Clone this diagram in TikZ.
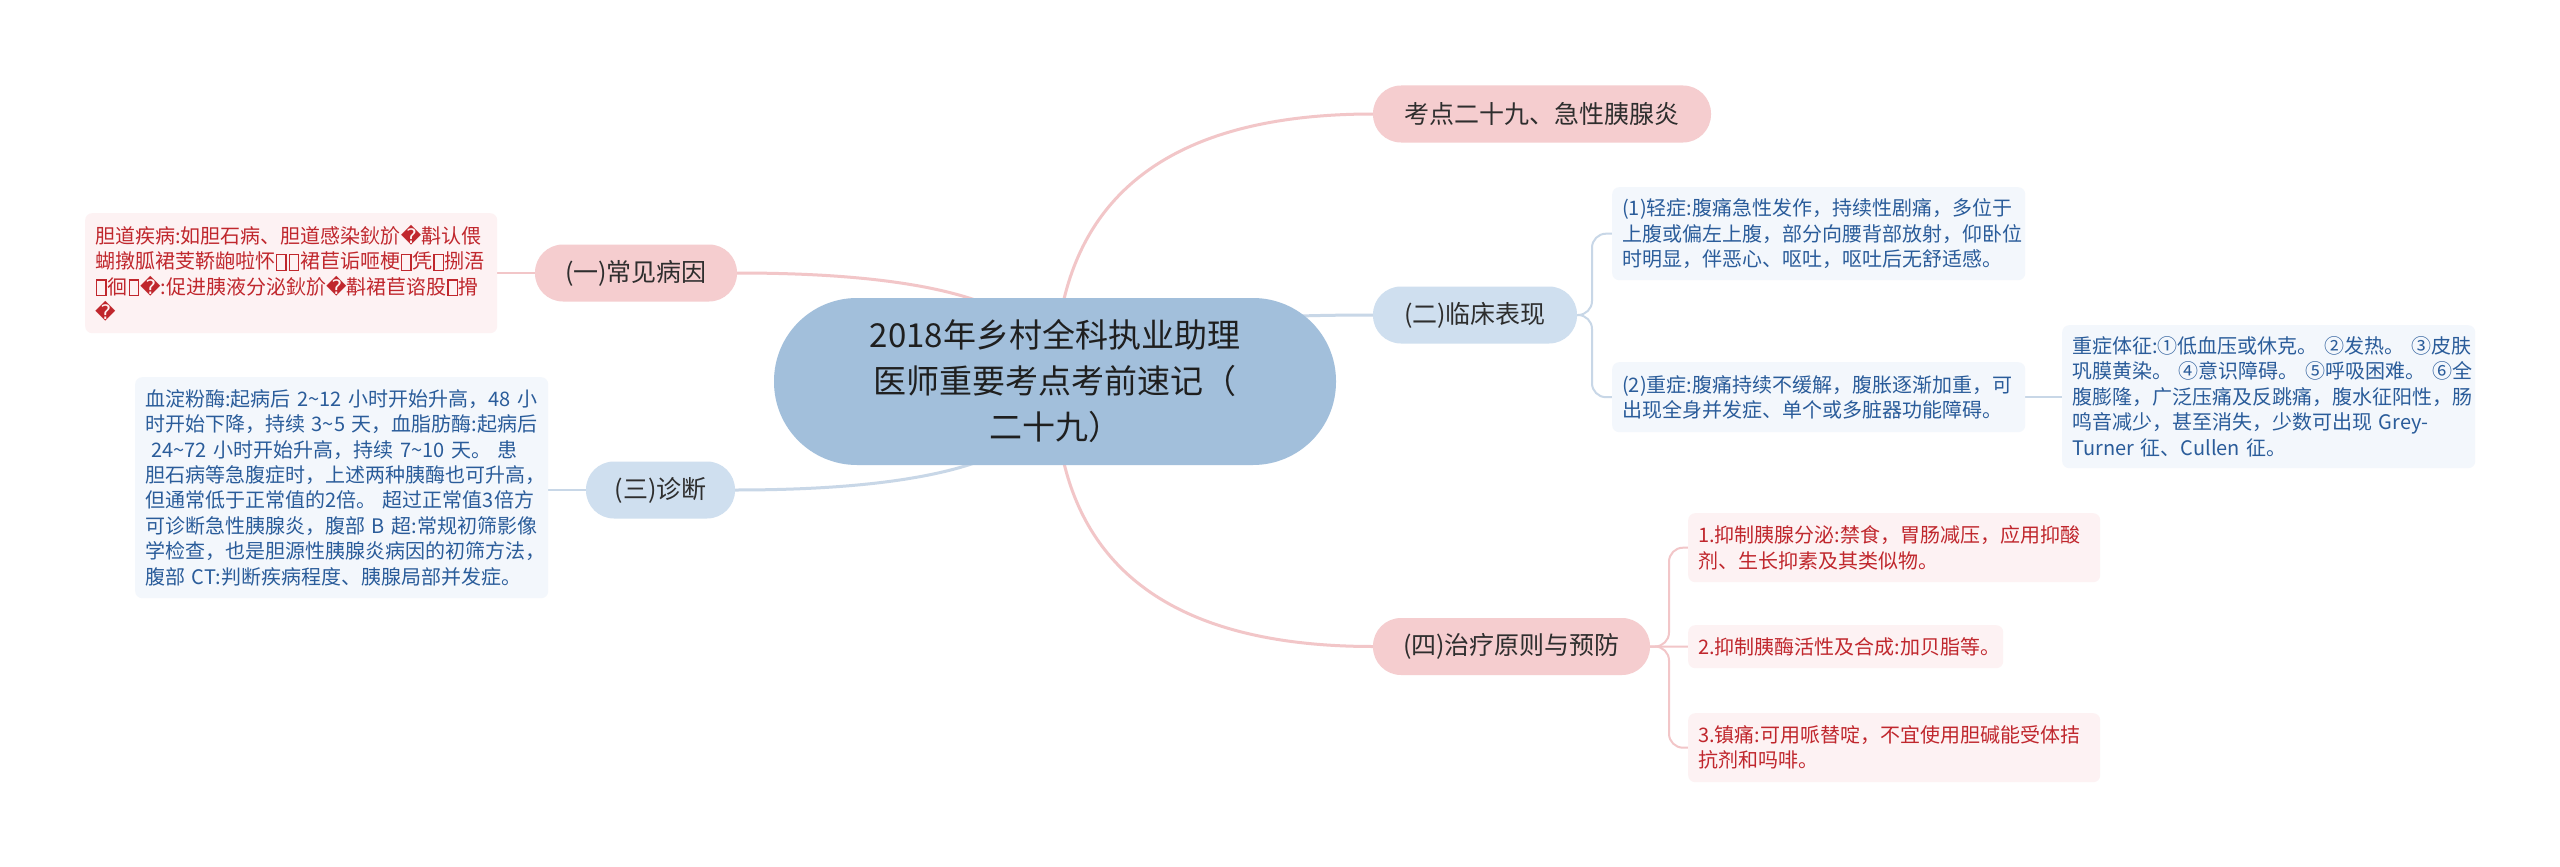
\documentclass[tikz,border=0pt]{standalone}
\usepackage{fontspec}
\setmainfont{Noto Sans CJK SC}
\newfontfamily\dejavu{DejaVu Sans}
\usetikzlibrary{backgrounds}
\definecolor{pinkfill}{HTML}{F5CDCF}
\definecolor{bluefill}{HTML}{CFDFEF}
\definecolor{rootfill}{HTML}{A2BFDB}
\definecolor{pinkline}{HTML}{F2C6C8}
\definecolor{blueline}{HTML}{C8D7E7}
\definecolor{pinkleaf}{HTML}{FDF2F3}
\definecolor{blueleaf}{HTML}{F3F7FC}
\definecolor{redtext}{HTML}{C0272D}
\definecolor{bluetext}{HTML}{2A5C9A}
\newcommand\rep{{\dejavu\char"FFFD}}
\newcommand\tofu{\makebox[0.62em]{\setlength\fboxsep{0pt}\setlength\fboxrule{1.3pt}\raisebox{-0.05em}{\fbox{\rule{0pt}{0.72em}\rule{0.4em}{0pt}}}}}
\newcommand\tl{\textasciitilde}
\tikzset{
  rootbox/.style={fill=rootfill, rounded corners=83pt, minimum width=562pt, minimum height=167pt,
    inner sep=0pt, align=center, text=black!88, font=\fontsize{33}{46}\selectfont},
  mainbox/.style={rounded corners=28pt, minimum height=57pt, inner sep=0pt, text=black!82,
    font=\fontsize{25}{30}\selectfont},
  pinkmain/.style={mainbox, fill=pinkfill},
  bluemain/.style={mainbox, fill=bluefill},
  leafbox/.style={rounded corners=7pt, inner xsep=10pt, inner ysep=0pt, anchor=north west,
    align=left, font=\fontsize{20}{25.4}\selectfont},
  pinkleafbox/.style={leafbox, fill=pinkleaf, text=redtext},
  blueleafbox/.style={leafbox, fill=blueleaf, text=bluetext},
  pinkbranch/.style={draw=pinkline, line width=3pt},
  bluebranch/.style={draw=blueline, line width=3pt},
  pinkleafline/.style={draw=pinkline, line width=2pt, rounded corners=14pt},
  blueleafline/.style={draw=blueline, line width=2pt, rounded corners=14pt},
}
\begin{document}
\begin{tikzpicture}[x=1pt,y=-1pt]
\useasboundingbox (0,0) rectangle (2560,867);

% root
\node[rootbox] (root) at (1055,381.5) {2018年乡村全科执业助理\\医师重要考点考前速记（\\二十九）};

% main branches
\node[pinkmain, minimum width=338pt] (kd) at (1542,114) {考点二十九、急性胰腺炎};
\node[pinkmain, minimum width=202pt] (n1) at (636,273) {(一)常见病因};
\node[bluemain, minimum width=204pt] (n2) at (1475,315) {(二)临床表现};
\node[bluemain, minimum width=149pt] (n3) at (660.5,490) {(三)诊断};
\node[pinkmain, minimum width=277pt] (n4) at (1511.5,646.5) {(四)治疗原则与预防};

% leaves
\node[pinkleafbox, text width=392pt, minimum height=120pt] (l1) at (85,213)
 {胆道疾病:如胆石病、胆道感染鈥斺\rep 斠认偎\\
  蝴撴胍裙芰鞒龅啦怀\tofu\tofu 裙苣诟咂梗\tofu 凭\tofu 捌浯\\
  \tofu 徊\tofu\rep:促进胰液分泌鈥斺\rep 斠裙苣谘股\tofu 搰\\
  \rep};

\node[blueleafbox, text width=393pt, minimum height=221pt] (l3) at (135,377)
 {血淀粉酶:起病后~2\tl12~小时开始升高，48~小\\
  时开始下降，持续~3\tl5~天，血脂肪酶:起病后\\
  \hspace*{0.3em}24\tl72~小时开始升高，持续~7\tl10~天。~患\\
  胆石病等急腹症时，上述两种胰酶也可升高，\\
  但通常低于正常值的2倍。~超过正常值3倍方\\
  可诊断急性胰腺炎，腹部~B~超:常规初筛影像\\
  学检查，也是胆源性胰腺炎病因的初筛方法，\\
  腹部~CT:判断疾病程度、胰腺局部并发症。};

\node[blueleafbox, text width=393pt, minimum height=93pt] (l21) at (1612,187)
 {(1)轻症:腹痛急性发作，持续性剧痛，多位于\\
  上腹或偏左上腹，部分向腰背部放射，仰卧位\\
  时明显，伴恶心、呕吐，呕吐后无舒适感。};

\node[blueleafbox, text width=393pt, minimum height=70pt] (l22) at (1612,362)
 {(2)重症:腹痛持续不缓解，腹胀逐渐加重，可\\
  出现全身并发症、单个或多脏器功能障碍。};

\node[blueleafbox, text width=393pt, minimum height=143pt] (l221) at (2062,325)
 {重症体征:①低血压或休克。~②发热。~③皮肤\\
  巩膜黄染。~④意识障碍。~⑤呼吸困难。~⑥全\\
  腹膨隆，广泛压痛及反跳痛，腹水征阳性，肠\\
  鸣音减少，甚至消失，少数可出现~Grey-\\
  Turner~征、Cullen~征。};

\node[pinkleafbox, text width=392pt, minimum height=69pt] (l41) at (1688,513)
 {1.抑制胰腺分泌:禁食，胃肠减压，应用抑酸\\
  剂、生长抑素及其类似物。};

\node[pinkleafbox, text width=295pt, minimum height=43pt] (l42) at (1688,625)
 {2.抑制胰酶活性及合成:加贝脂等。};

\node[pinkleafbox, text width=392pt, minimum height=69pt] (l43) at (1688,713)
 {3.镇痛:可用哌替啶，不宜使用胆碱能受体拮\\
  抗剂和吗啡。};

\coordinate (b2) at (1592,315);
\coordinate (b4) at (1669,646.5);

\begin{pgfonlayer}{background}
\fill[white] (0,0) rectangle (2560,867);
\path[pinkbranch] (root.center) .. controls (1055,203.2) and (1161,114) .. (kd.west);
\path[pinkbranch] (root.center) .. controls (1055,309.2) and (949,273) .. (n1.east);
\path[bluebranch] (root.center) .. controls (1055,337.2) and (1161,315) .. (n2.west);
\path[bluebranch] (root.center) .. controls (1055,453.8) and (948,490) .. (n3.east);
\path[pinkbranch] (root.center) .. controls (1055,558.2) and (1161,646.5) .. (n4.west);

\path[pinkleafline] (n1.west) -- (l1.east |- n1.west);
\path[blueleafline] (n3.west) -- (l3.east |- n3.west);
\path[blueleafline] (n2.east) -- (b2) |- (l21.west);
\path[blueleafline] (n2.east) -- (b2) |- (l22.west);
\path[blueleafline] (l22.east) -- (l221.west |- l22.east);
\path[pinkleafline] (n4.east) -- (b4) |- (l41.west);
\path[pinkleafline] (n4.east) -- (l42.west);
\path[pinkleafline] (n4.east) -- (b4) |- (l43.west);
\end{pgfonlayer}
\end{tikzpicture}
\end{document}
